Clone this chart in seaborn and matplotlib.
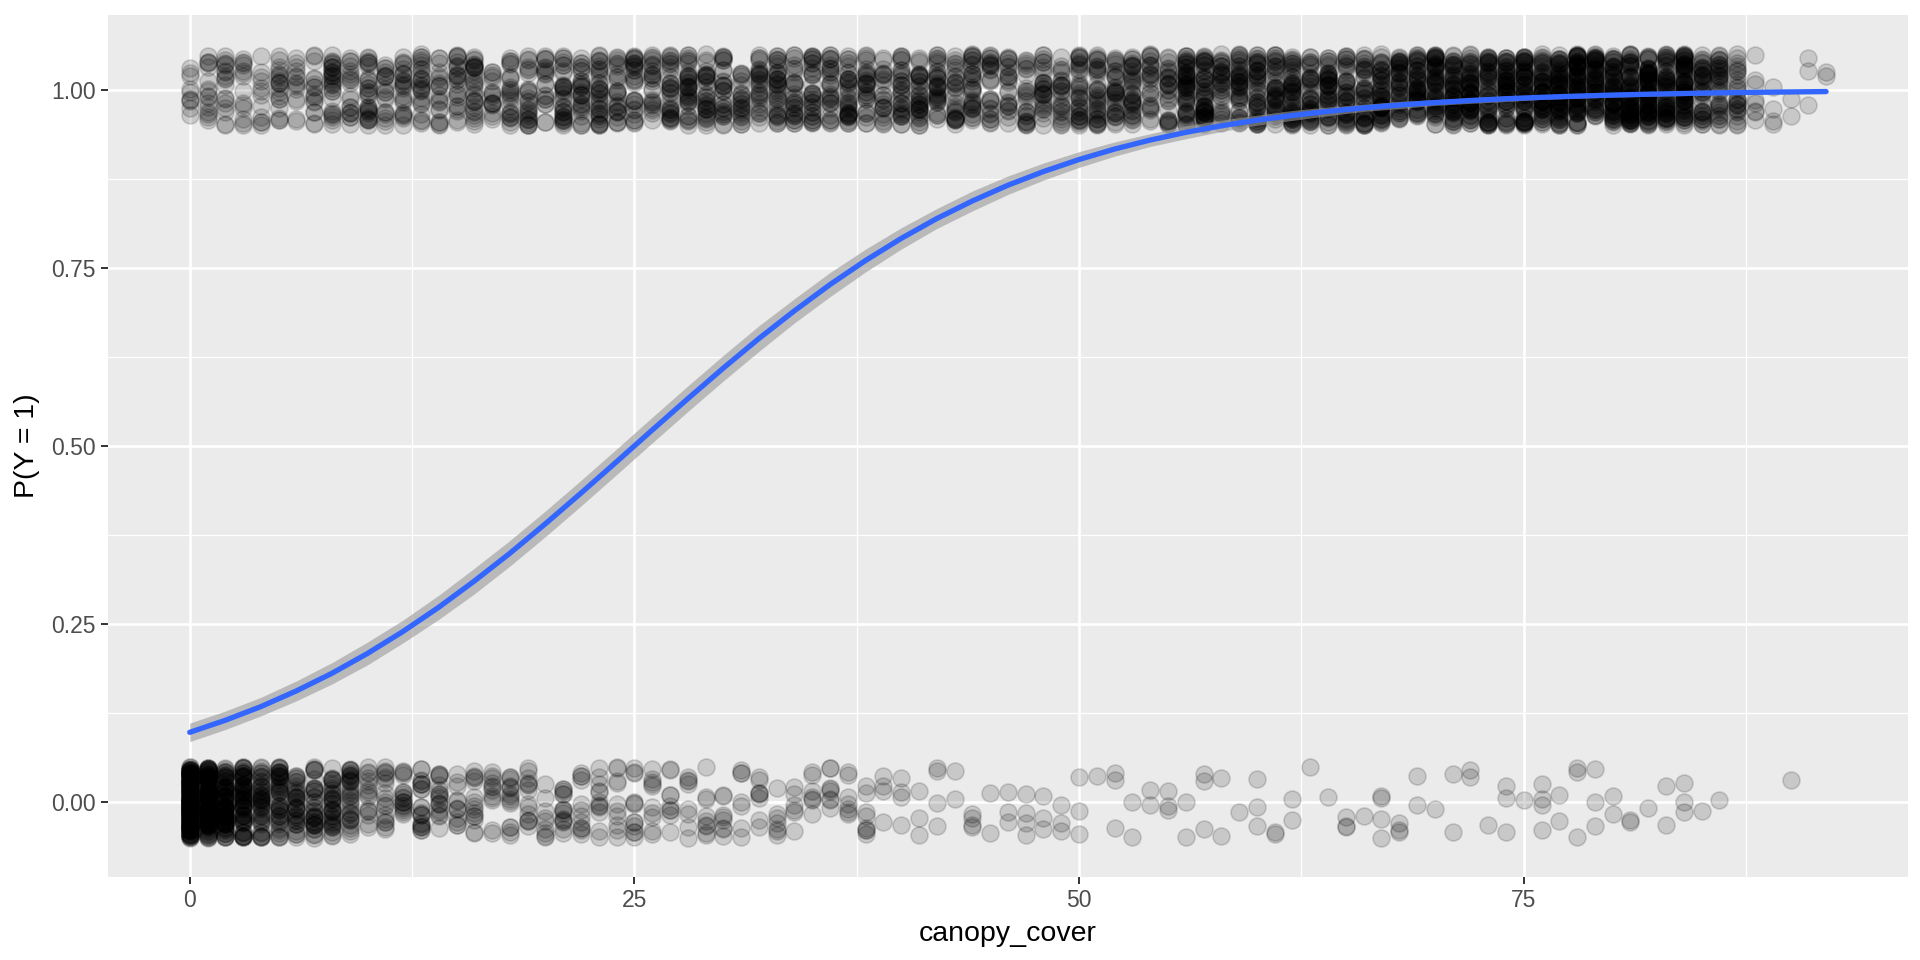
import numpy as np
import pandas as pd
import matplotlib
matplotlib.use("Agg")
import matplotlib.pyplot as plt
import seaborn as sns

# canopy cover values (integer percent) and how many plots had Y = 0 / Y = 1
cover = list(range(0, 93))
n_absent = [200, 120, 90, 75, 50, 50, 38, 38, 40, 35,
            16, 18, 18, 22, 18, 12, 15, 12, 15, 14,
            9, 15, 12, 12, 10, 12, 10, 9, 8, 9,
            8, 7, 8, 7, 6, 7, 8, 7, 8, 4,
            4, 3, 4, 2, 4, 2, 3, 4, 3, 3,
            3, 1, 3, 2, 2, 3, 2, 3, 2, 1,
            3, 2, 2, 1, 1, 3, 1, 4, 3, 2,
            1, 2, 2, 1, 3, 1, 4, 2, 3, 3,
            2, 2, 1, 2, 3, 1, 1, 0, 0, 0,
            1, 0, 0]
n_present = [10, 16, 18, 14, 12, 20, 14, 17, 30, 20,
             30, 20, 25, 27, 20, 25, 30, 17, 25, 27,
             20, 34, 30, 37, 27, 30, 25, 34, 37, 34,
             30, 25, 30, 37, 30, 34, 30, 37, 30, 24,
             34, 37, 34, 30, 34, 27, 24, 25, 30, 27,
             37, 37, 34, 37, 27, 30, 55, 55, 35, 44,
             48, 44, 55, 44, 48, 44, 44, 55, 48, 55,
             62, 62, 66, 57, 62, 70, 66, 78, 85, 66,
             70, 78, 85, 66, 78, 44, 39, 28, 8, 4,
             2, 3, 2]

# fitted glm curve and its confidence half-width
fit_x = list(range(0, 93, 2))
fit_p = [0.0980, 0.1149, 0.1341, 0.1562, 0.1809, 0.2088, 0.2397, 0.2735,
         0.3103, 0.3493, 0.3908, 0.4338, 0.4778, 0.5222, 0.5662, 0.6092,
         0.6507, 0.6897, 0.7265, 0.7603, 0.7912, 0.8191, 0.8438, 0.8659,
         0.8851, 0.9020, 0.9167, 0.9293, 0.9401, 0.9493, 0.9572, 0.9639,
         0.9696, 0.9745, 0.9785, 0.9819, 0.9848, 0.9873, 0.9893, 0.9910,
         0.9925, 0.9937, 0.9947, 0.9956, 0.9963, 0.9969, 0.9974]
fit_se = [0.013, 0.013, 0.013, 0.014, 0.015, 0.016, 0.016, 0.017,
          0.018, 0.018, 0.018, 0.018, 0.018, 0.018, 0.018, 0.018,
          0.018, 0.017, 0.017, 0.016, 0.015, 0.014, 0.014, 0.013,
          0.012, 0.011, 0.010, 0.009, 0.009, 0.008, 0.007, 0.007,
          0.006, 0.005, 0.005, 0.004, 0.004, 0.004, 0.003, 0.003,
          0.003, 0.003, 0.003, 0.003, 0.003, 0.003, 0.003]

x_ticks = [0, 25, 50, 75]
y_ticks = [0.00, 0.25, 0.50, 0.75, 1.00]

# build long table
xs = np.concatenate([np.repeat(cover, n_absent), np.repeat(cover, n_present)])
ys = np.concatenate([np.zeros(sum(n_absent)), np.ones(sum(n_present))])
# vertical jitter (height 0.05), deterministic offsets
idx = np.arange(len(xs))
jit = ((idx * 0.7548776662 + idx * idx * 0.5698402910) % 1.0 - 0.5) * 0.1
df = pd.DataFrame({"canopy_cover": xs, "y": ys + jit})
fit = pd.DataFrame({"canopy_cover": fit_x, "p": fit_p})
lo = np.array(fit_p) - np.array(fit_se)
hi = np.array(fit_p) + np.array(fit_se)

sns.set_theme(style="darkgrid")
plt.rcParams["font.family"] = ["Liberation Sans", "DejaVu Sans"]

fig = plt.figure(figsize=(19.2, 9.6), dpi=100)
ax = fig.add_axes([0.0562, 0.0865, 0.9375, 0.8980])
ax.set_facecolor("#EBEBEB")

sns.scatterplot(data=df, x="canopy_cover", y="y", ax=ax, color="black",
                alpha=0.15, s=150, edgecolor="black", linewidth=1.2, zorder=3)

ax.fill_between(fit_x, lo, hi, color="#999999", alpha=0.6, linewidth=0, zorder=4)
sns.lineplot(data=fit, x="canopy_cover", y="p", ax=ax, color="#3366FF",
             linewidth=3.8, zorder=5)

ax.set_xlim(-4.6, 96.6)
ax.set_ylim(-0.105, 1.105)
ax.set_xticks(x_ticks)
ax.set_xticklabels([str(t) for t in x_ticks])
ax.set_yticks(y_ticks)
ax.set_yticklabels([f"{t:.2f}" for t in y_ticks])
ax.set_xticks([12.5, 37.5, 62.5, 87.5], minor=True)
ax.set_yticks([0.125, 0.375, 0.625, 0.875], minor=True)

ax.grid(which="major", color="white", linewidth=1.9)
ax.grid(which="minor", color="white", linewidth=0.9)
ax.set_axisbelow(True)
for sp in ax.spines.values():
    sp.set_visible(False)

ax.tick_params(axis="both", which="major", length=5, width=1.4, color="#333333",
               labelsize=16.5, labelcolor="#4D4D4D", pad=4, direction="out",
               bottom=True, left=True)
ax.tick_params(axis="both", which="minor", length=0)

ax.set_xlabel("canopy_cover", fontsize=20.5, color="black", labelpad=6)
ax.set_ylabel("P(Y = 1)", fontsize=20.5, color="black", labelpad=8)

fig.savefig("out.png", dpi=100)
